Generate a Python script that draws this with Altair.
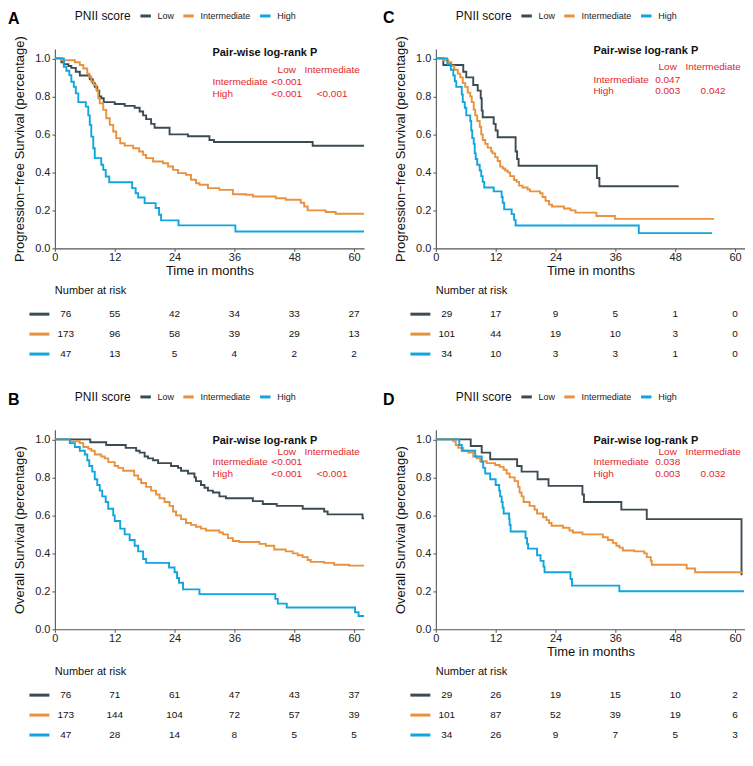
import altair as alt
import pandas as pd

GROUPS = ["Low", "Intermediate", "High"]
COLORS = ["#3B4B52", "#E8923F", "#10A5DE"]
RED = "#E3262B"
FONT = "Liberation Sans"

# ---------------- Kaplan-Meier curves: (months, survival) ----------------
A_LOW = [(0, 1.0), (1.3, 0.98), (1.8, 0.97), (2.7, 0.96), (3.3, 0.95), (4.2, 0.93), (5.0, 0.91),
         (7.0, 0.89), (7.6, 0.87), (8.0, 0.85), (8.5, 0.83), (8.9, 0.80), (9.3, 0.79), (9.8, 0.77),
         (12.0, 0.76), (14.0, 0.75), (16.0, 0.74), (17.0, 0.72), (17.7, 0.70), (18.3, 0.68),
         (19.3, 0.655), (20.0, 0.635), (23.0, 0.60), (26.7, 0.59), (31.0, 0.57), (31.9, 0.56),
         (51.7, 0.54), (62, 0.54)]
A_INT = [(0, 1.0), (1.3, 0.99), (4.0, 0.98), (5.0, 0.965), (5.7, 0.947), (6.5, 0.92), (6.9, 0.905),
         (7.3, 0.877), (7.8, 0.86), (8.3, 0.834), (8.7, 0.79), (9.0, 0.764), (9.7, 0.729),
         (10.3, 0.685), (11.0, 0.65), (11.7, 0.615), (12.3, 0.58), (13.1, 0.553), (14.0, 0.541),
         (15.7, 0.527), (16.9, 0.51), (17.7, 0.492), (18.3, 0.475), (19.7, 0.457), (21.7, 0.448),
         (22.7, 0.431), (23.7, 0.413), (24.7, 0.396), (26.3, 0.387), (27.3, 0.361), (28.3, 0.343),
         (29.0, 0.335), (30.7, 0.317), (33.0, 0.308), (35.7, 0.285), (38.3, 0.282), (39.7, 0.273),
         (44.3, 0.264), (46.3, 0.256), (49.3, 0.24), (50.0, 0.22), (50.7, 0.20), (54.3, 0.191),
         (56.3, 0.182), (62, 0.182)]
A_HIGH = [(0, 1.0), (1.8, 0.956), (2.3, 0.935), (2.9, 0.912), (3.3, 0.877), (3.8, 0.85), (4.2, 0.816),
          (4.7, 0.77), (6.2, 0.746), (6.7, 0.70), (7.0, 0.65), (7.3, 0.588), (7.7, 0.527), (8.0, 0.475),
          (9.3, 0.44), (9.7, 0.413), (10.2, 0.378), (10.9, 0.348), (15.5, 0.317), (16.2, 0.29),
          (16.7, 0.268), (18.0, 0.238), (20.2, 0.212), (20.9, 0.177), (21.3, 0.147), (24.8, 0.121),
          (36.2, 0.089), (62, 0.089)]

C_LOW = [(0, 1.0), (1.5, 0.965), (5.5, 0.93), (6.1, 0.90), (7.5, 0.86), (8.4, 0.83), (9.0, 0.79),
         (9.2, 0.725), (9.4, 0.69), (11.6, 0.655), (12.0, 0.62), (12.4, 0.585), (16.0, 0.51),
         (16.3, 0.47), (16.6, 0.435), (32.3, 0.37), (32.8, 0.327), (48.7, 0.327)]
C_INT = [(0, 1.0), (1.5, 0.99), (2.5, 0.98), (3.1, 0.96), (3.7, 0.94), (4.4, 0.92), (4.9, 0.90),
         (5.4, 0.87), (5.9, 0.85), (6.4, 0.82), (6.9, 0.80), (7.2, 0.77), (7.6, 0.73), (7.9, 0.70),
         (8.3, 0.67), (8.8, 0.64), (9.1, 0.60), (9.4, 0.57), (9.9, 0.55), (10.4, 0.53), (11.1, 0.51),
         (11.4, 0.50), (11.9, 0.48), (12.4, 0.46), (12.9, 0.43), (13.4, 0.42), (13.9, 0.41),
         (14.4, 0.40), (14.9, 0.38), (15.7, 0.36), (16.2, 0.35), (16.7, 0.33), (17.4, 0.32),
         (18.4, 0.31), (18.9, 0.30), (20.9, 0.29), (21.4, 0.27), (22.0, 0.25), (22.7, 0.23),
         (23.3, 0.22), (25.7, 0.21), (27.0, 0.20), (28.0, 0.188), (32.2, 0.17), (35.9, 0.155),
         (55.8, 0.155)]
C_HIGH = [(0, 1.0), (2.3, 0.97), (3.0, 0.94), (3.5, 0.91), (3.8, 0.88), (4.1, 0.85), (5.2, 0.81),
          (5.4, 0.77), (5.8, 0.74), (6.1, 0.70), (6.9, 0.67), (7.1, 0.62), (7.3, 0.58), (7.6, 0.55),
          (7.8, 0.50), (8.0, 0.47), (8.3, 0.44), (8.8, 0.41), (9.1, 0.38), (9.4, 0.35), (9.7, 0.32),
          (11.6, 0.30), (13.2, 0.27), (13.4, 0.24), (13.7, 0.205), (15.2, 0.18), (15.7, 0.15),
          (16.0, 0.12), (40.7, 0.08), (55.4, 0.08)]

B_LOW = [(0, 1.0), (7.1, 0.985), (10.3, 0.97), (14.2, 0.955), (16.3, 0.94), (17.0, 0.93), (18.0, 0.91),
         (18.7, 0.90), (19.7, 0.89), (20.7, 0.875), (23.3, 0.86), (24.7, 0.85), (25.3, 0.835),
         (26.7, 0.82), (28.0, 0.80), (28.3, 0.78), (29.3, 0.76), (30.0, 0.745), (30.7, 0.73),
         (31.7, 0.72), (33.0, 0.70), (34.3, 0.69), (39.7, 0.675), (41.7, 0.66), (44.5, 0.65),
         (49.7, 0.635), (54.0, 0.62), (54.7, 0.605), (61.7, 0.585), (62, 0.585)]
B_INT = [(0, 1.0), (3.0, 0.99), (5.0, 0.98), (5.7, 0.96), (6.7, 0.95), (7.3, 0.94), (8.0, 0.92),
         (9.3, 0.91), (10.0, 0.90), (10.7, 0.88), (12.0, 0.86), (12.7, 0.85), (13.7, 0.835),
         (15.9, 0.81), (16.7, 0.79), (17.3, 0.77), (18.3, 0.75), (19.3, 0.73), (20.3, 0.71),
         (21.0, 0.69), (22.0, 0.67), (23.0, 0.65), (23.7, 0.62), (24.3, 0.60), (25.3, 0.58),
         (26.3, 0.56), (27.3, 0.55), (28.3, 0.54), (29.3, 0.53), (30.3, 0.52), (33.0, 0.51),
         (33.7, 0.50), (34.7, 0.48), (35.7, 0.465), (37.0, 0.46), (41.0, 0.45), (42.3, 0.44),
         (44.0, 0.42), (46.3, 0.41), (47.7, 0.40), (48.7, 0.39), (49.7, 0.38), (50.7, 0.365),
         (51.3, 0.355), (54.0, 0.35), (56.0, 0.34), (59.0, 0.335), (62, 0.33)]
B_HIGH = [(0, 1.0), (3.0, 0.98), (4.0, 0.96), (5.0, 0.94), (6.0, 0.92), (6.5, 0.89), (6.9, 0.86),
          (7.5, 0.83), (8.0, 0.79), (8.5, 0.76), (9.0, 0.73), (9.5, 0.70), (10.2, 0.67), (10.7, 0.635),
          (11.7, 0.60), (12.0, 0.57), (13.1, 0.53), (14.0, 0.50), (15.0, 0.47), (16.0, 0.44),
          (16.7, 0.41), (17.7, 0.37), (18.3, 0.35), (22.9, 0.325), (24.0, 0.30), (24.5, 0.27),
          (24.9, 0.245), (25.7, 0.21), (29.0, 0.185), (44.2, 0.16), (44.7, 0.135), (46.5, 0.115),
          (60.2, 0.09), (60.9, 0.07), (62, 0.07)]

D_LOW = [(0, 1.0), (7.0, 0.965), (9.2, 0.93), (10.9, 0.895), (16.3, 0.86), (17.2, 0.83), (20.4, 0.79),
         (22.6, 0.755), (29.4, 0.71), (29.7, 0.67), (37.2, 0.63), (42.3, 0.58), (61.3, 0.29),
         (61.5, 0.29)]
D_INT = [(0, 1.0), (3.5, 0.99), (4.0, 0.97), (4.5, 0.955), (5.5, 0.94), (6.5, 0.93), (7.5, 0.91),
         (8.2, 0.90), (8.9, 0.885), (10.2, 0.875), (11.9, 0.865), (12.8, 0.855), (13.6, 0.84),
         (14.2, 0.82), (14.8, 0.80), (15.8, 0.78), (16.5, 0.75), (16.8, 0.72), (17.2, 0.70),
         (17.6, 0.67), (18.8, 0.65), (19.8, 0.63), (20.3, 0.61), (21.5, 0.59), (22.2, 0.575),
         (22.7, 0.56), (23.2, 0.545), (25.5, 0.535), (26.8, 0.52), (27.5, 0.51), (29.4, 0.50),
         (33.5, 0.485), (34.5, 0.47), (35.5, 0.455), (36.2, 0.44), (36.8, 0.43), (37.5, 0.415),
         (39.8, 0.41), (41.8, 0.40), (42.3, 0.38), (43.1, 0.36), (43.3, 0.34), (50.3, 0.32),
         (52.0, 0.30), (61.6, 0.30)]
D_HIGH = [(0, 1.0), (4.7, 0.97), (5.2, 0.94), (7.9, 0.91), (9.2, 0.88), (9.5, 0.85), (9.9, 0.82),
          (10.9, 0.79), (12.0, 0.76), (12.7, 0.73), (12.9, 0.70), (13.2, 0.67), (13.4, 0.64),
          (13.6, 0.61), (14.7, 0.58), (14.8, 0.55), (15.0, 0.515), (18.0, 0.48), (18.3, 0.45),
          (18.5, 0.425), (20.3, 0.39), (21.0, 0.36), (21.6, 0.33), (21.8, 0.30), (27.0, 0.265),
          (27.3, 0.23), (36.8, 0.20), (61.8, 0.20)]

# ---------------- Number at risk ----------------
RISK_TIMES = [0, 12, 24, 36, 48, 60]
A_RISK = [[76, 55, 42, 34, 33, 27], [173, 96, 58, 39, 29, 13], [47, 13, 5, 4, 2, 2]]
C_RISK = [[29, 17, 9, 5, 1, 0], [101, 44, 19, 10, 3, 0], [34, 10, 3, 3, 1, 0]]
B_RISK = [[76, 71, 61, 47, 43, 37], [173, 144, 104, 72, 57, 39], [47, 28, 14, 8, 5, 5]]
D_RISK = [[29, 26, 19, 15, 10, 2], [101, 87, 52, 39, 19, 6], [34, 26, 9, 7, 5, 3]]

# ---------------- Pair-wise log-rank P (Int vs Low, High vs Low, High vs Int) ----------------
A_P = ["<0.001", "<0.001", "<0.001"]
C_P = ["0.047", "0.003", "0.042"]
B_P = ["<0.001", "<0.001", "<0.001"]
D_P = ["0.038", "0.003", "0.032"]

PFS = "Progression\u2212free Survival (percentage)"
OS = "Overall Survival (percentage)"

PANELS = {
    "A": dict(curves=[A_LOW, A_INT, A_HIGH], risk=A_RISK, p=A_P, ylab=PFS, xlab="Time in months"),
    "C": dict(curves=[C_LOW, C_INT, C_HIGH], risk=C_RISK, p=C_P, ylab=PFS, xlab="Time in months"),
    "B": dict(curves=[B_LOW, B_INT, B_HIGH], risk=B_RISK, p=B_P, ylab=OS, xlab=None),
    "D": dict(curves=[D_LOW, D_INT, D_HIGH], risk=D_RISK, p=D_P, ylab=OS, xlab="Time in months"),
}

# layout / style (annotation positions in data units)
ANN_Y = {"A": (1.026, 0.94, 0.877, 0.815), "C": (1.038, 0.953, 0.888, 0.826),
         "B": (0.99, 0.935, 0.879, 0.817), "D": (0.99, 0.935, 0.879, 0.817)}
ANN_X = dict(label=31.6, col1=46.5, col2=55.6)
LETTER_POS = {"A": (-9.4, 1.183), "B": (-9.4, 1.183), "C": (-10.6, 1.185), "D": (-10.6, 1.183)}
W, H = 310, 200
XDOM = [0, 62]


def km_chart(key):
    cfg = PANELS[key]
    rows = []
    for g, curve in zip(GROUPS, cfg["curves"]):
        for t, s in curve:
            rows.append({"group": g, "time": t, "surv": s})
    df = pd.DataFrame(rows)

    xaxis_kw = dict(values=RISK_TIMES, labelFlush=False, tickSize=3, labelPadding=0, titlePadding=2)
    xaxis_kw["title"] = cfg["xlab"] if cfg["xlab"] else ""
    xenc = alt.X("time:Q", scale=alt.Scale(domain=XDOM, nice=False, zero=False),
                 axis=alt.Axis(**xaxis_kw))
    yenc = alt.Y("surv:Q", scale=alt.Scale(domain=[0, 1.05], nice=False, zero=False),
                 axis=alt.Axis(title=cfg["ylab"], values=[0, 0.2, 0.4, 0.6, 0.8, 1.0], format=".1f",
                               tickSize=3, labelPadding=2, titlePadding=8))

    legend = alt.Legend(title="PNII score", orient="none", legendX=20, legendY=-40,
                        direction="horizontal", titleOrient="left", titleFontSize=12,
                        titleFontWeight="normal", titleColor="#111", titlePadding=7,
                        labelFontSize=9, labelColor="#222", symbolType="stroke",
                        symbolSize=110, symbolStrokeWidth=3, labelOffset=5, columnPadding=2)

    lines = alt.Chart(df).mark_line(interpolate="step-after", strokeWidth=1.9, clip=True).encode(
        x=xenc, y=yenc,
        color=alt.Color("group:N", scale=alt.Scale(domain=GROUPS, range=COLORS), legend=legend),
    )

    ay = ANN_Y[key]
    p = cfg["p"]
    head = pd.DataFrame({"time": [ANN_X["label"]], "surv": [ay[0]], "txt": ["Pair-wise log-rank P"]})
    cols = pd.DataFrame({"time": [ANN_X["col1"], ANN_X["col2"], ANN_X["col1"], ANN_X["col1"], ANN_X["col2"]],
                         "surv": [ay[1], ay[1], ay[2], ay[3], ay[3]],
                         "txt": ["Low", "Intermediate", p[0], p[1], p[2]]})
    rlab = pd.DataFrame({"time": [ANN_X["label"], ANN_X["label"]], "surv": [ay[2], ay[3]],
                         "txt": ["Intermediate", "High"]})
    lx, ly = LETTER_POS[key]
    letter = pd.DataFrame({"time": [lx], "surv": [ly], "txt": [key]})

    t_head = alt.Chart(head).mark_text(align="left", baseline="middle", fontSize=11,
                                       fontWeight="bold", color="#111").encode(
        x=xenc, y=yenc, text="txt:N")
    t_cols = alt.Chart(cols).mark_text(align="center", baseline="middle", fontSize=10,
                                       color=RED).encode(x=xenc, y=yenc, text="txt:N")
    t_rlab = alt.Chart(rlab).mark_text(align="left", baseline="middle", fontSize=10,
                                       color=RED).encode(x=xenc, y=yenc, text="txt:N")
    t_letter = alt.Chart(letter).mark_text(align="left", baseline="alphabetic", fontSize=16,
                                           fontWeight="bold", color="#000").encode(
        x=xenc, y=yenc, text="txt:N")

    return alt.layer(lines, t_head, t_cols, t_rlab, t_letter).properties(width=W, height=H)


def risk_chart(key, height):
    cfg = PANELS[key]
    rows = []
    for gi, g in enumerate(GROUPS):
        for t, n in zip(RISK_TIMES, cfg["risk"][gi]):
            rows.append({"group": g, "row": gi + 0.5, "time": t, "n": n})
    df = pd.DataFrame(rows)
    gdf = pd.DataFrame({"group": GROUPS, "row": [0.5, 1.5, 2.5], "col": COLORS})
    tdf = pd.DataFrame({"time": [0], "row": [-0.65], "txt": ["Number at risk"]})

    xscale = alt.Scale(domain=XDOM, nice=False, zero=False)
    yenc = alt.Y("row:Q", scale=alt.Scale(domain=[0, height / 20.0], reverse=True, nice=False, zero=False),
                 axis=None)

    nums = alt.Chart(df).transform_calculate(
        xpos="datum.time == 0 ? 2.2 : datum.time"
    ).mark_text(fontSize=10, color="#111", baseline="middle").encode(
        x=alt.X("xpos:Q", scale=xscale, axis=None), y=yenc, text="n:Q")
    keys = alt.Chart(gdf).transform_calculate(
        xa="-5.1", xb="-1.1"
    ).mark_rule(strokeWidth=3).encode(
        x=alt.X("xa:Q", scale=xscale, axis=None), x2="xb:Q", y=yenc,
        color=alt.Color("col:N", scale=None))
    ttl = alt.Chart(tdf).mark_text(fontSize=11, color="#111", align="left", baseline="middle").encode(
        x=alt.X("time:Q", scale=xscale, axis=None), y=yenc, text="txt:N")

    return alt.layer(keys, nums, ttl).properties(width=W, height=height)


chart = alt.concat(
    km_chart("A"), km_chart("C"),
    risk_chart("A", 70), risk_chart("C", 70),
    km_chart("B"), km_chart("D"),
    risk_chart("B", 56), risk_chart("D", 56),
    columns=2, spacing={"row": 56, "column": 72}, bounds="flush", align="each",
).resolve_scale(
    color="independent"
).resolve_legend(
    color="independent"
).properties(
    padding={"left": 0, "top": 0, "right": 0, "bottom": 0}, background="white"
).configure(
    font=FONT
).configure_view(
    strokeWidth=0
).configure_axis(
    domainColor="#555555", domainWidth=1.1, tickColor="#555555", tickWidth=1,
    labelFontSize=11, labelColor="#222222",
    titleFontSize=13, titleFontWeight="normal", titleColor="#111111", grid=False,
)

chart.save("out.html", embed_options={"renderer": "svg", "actions": False})
